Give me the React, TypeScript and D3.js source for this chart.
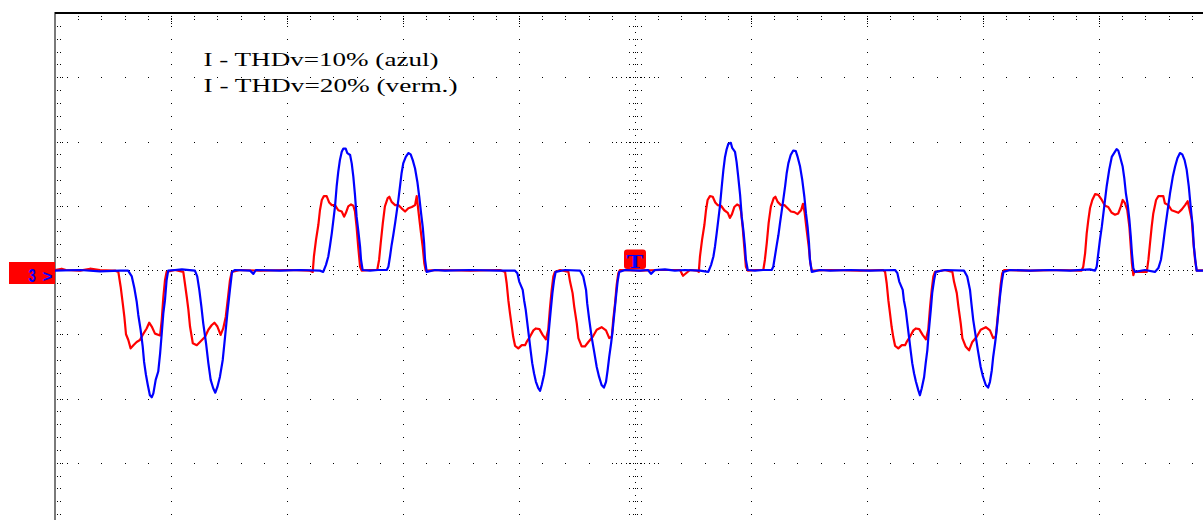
import React from 'react';
import * as d3 from 'd3';

// Oscilloscope capture: 5 ms/div horizontally (t in ms from left edge), current in divisions vertically.
const legendLines = ['I - THDv=10% (azul)', 'I - THDv=20% (verm.)'];
const channelLabel = '3';
const triggerLabel = 'T';
const timeDomain: [number, number] = [0, 50];
const ampDomain: [number, number] = [-4, 4];
const majorTimes = [5, 10, 15, 20, 30, 35, 40, 45];
const majorAmps = [-3, -2, -1, 1, 2, 3];

// I - THDv=10% (blue)
const currentThd10: [number, number][] = [
  [0,-0.01],[1.08,0],[1.94,-0.02],[2.80,-0.01],[3.15,-0.01],[3.31,-0.10],[3.42,-0.28],[3.52,-0.49],[3.59,-0.70],[3.69,-0.93],[3.78,-1.19],[3.84,-1.43],[3.92,-1.63],[4.00,-1.79],[4.09,-1.95],[4.17,-1.98],[4.24,-1.92],[4.34,-1.71],[4.45,-1.58],[4.53,-1.30],[4.60,-0.99],[4.67,-0.67],[4.74,-0.47],[4.81,-0.16],[4.88,-0.01],[5.17,0],[5.47,0.01],[6.03,-0.01],[6.13,-0.10],[6.22,-0.31],[6.31,-0.57],[6.39,-0.83],[6.51,-1.14],[6.61,-1.45],[6.71,-1.71],[6.82,-1.84],[6.91,-1.91],[7.00,-1.82],[7.11,-1.66],[7.23,-1.40],[7.33,-1.04],[7.43,-0.67],[7.54,-0.31],[7.63,-0.03],[7.76,0],[8.41,-0.01],[8.55,-0.06],[8.66,0],[9.70,-0.01],[10.56,0],[11.42,-0.01],
  [11.56,-0.03],[11.68,0.08],[11.78,0.21],[11.85,0.37],[11.93,0.57],[12.00,0.78],[12.07,0.99],[12.14,1.30],[12.21,1.53],[12.28,1.71],[12.36,1.84],[12.43,1.89],[12.53,1.89],[12.60,1.82],[12.72,1.79],[12.79,1.66],[12.86,1.45],[12.93,1.17],[13.00,0.83],[13.07,0.62],[13.15,0.36],[13.19,0.16],[13.26,0],[13.58,-0.01],[13.92,0],[14.30,0],[14.37,0.05],[14.44,0.21],[14.51,0.39],[14.58,0.54],[14.66,0.73],[14.73,0.91],[14.80,1.09],[14.87,1.30],[14.94,1.51],[15.01,1.66],[15.12,1.76],[15.23,1.82],[15.33,1.80],[15.42,1.71],[15.52,1.58],[15.62,1.37],[15.70,1.14],[15.78,0.88],[15.85,0.67],[15.91,0.42],[15.95,0.16],[16.02,-0.03],[16.38,0],[16.81,-0.01],[17.89,0],[19.18,-0.01],[19.83,-0.01],
  [19.93,-0.05],[20.01,-0.18],[20.16,-0.31],[20.22,-0.47],[20.29,-0.62],[20.36,-0.83],[20.43,-1.04],[20.50,-1.25],[20.57,-1.45],[20.65,-1.61],[20.73,-1.74],[20.83,-1.84],[20.91,-1.88],[20.98,-1.79],[21.08,-1.63],[21.15,-1.45],[21.22,-1.25],[21.29,-0.93],[21.37,-0.62],[21.44,-0.36],[21.51,-0.16],[21.58,-0.03],[21.98,0],[22.63,-0.01],[22.77,-0.10],[22.89,-0.31],[22.94,-0.52],[23.03,-0.78],[23.13,-1.04],[23.23,-1.25],[23.35,-1.51],[23.45,-1.66],[23.56,-1.79],[23.66,-1.83],[23.75,-1.74],[23.82,-1.56],[23.89,-1.35],[23.97,-1.14],[24.04,-0.93],[24.11,-0.67],[24.18,-0.42],[24.25,-0.18],[24.32,-0.03],[24.57,0],[25.22,-0.01],[25.56,0],[25.69,-0.06],[25.86,0],[26.29,0.01],[26.72,-0.01],[27.16,0],[27.80,-0.01],
  [28.16,-0.03],[28.28,0.08],[28.38,0.21],[28.45,0.37],[28.52,0.57],[28.59,0.78],[28.66,0.99],[28.74,1.30],[28.81,1.56],[28.88,1.76],[28.95,1.88],[29.02,1.96],[29.13,1.98],[29.19,1.90],[29.31,1.84],[29.38,1.68],[29.45,1.45],[29.53,1.17],[29.60,0.83],[29.67,0.62],[29.74,0.36],[29.78,0.16],[29.86,0],[30.17,-0.01],[30.52,0],[30.89,0],[30.96,0.05],[31.03,0.21],[31.11,0.39],[31.18,0.54],[31.25,0.73],[31.32,0.91],[31.39,1.09],[31.47,1.30],[31.54,1.51],[31.61,1.66],[31.71,1.79],[31.82,1.86],[31.93,1.85],[32.01,1.76],[32.11,1.62],[32.21,1.40],[32.30,1.14],[32.37,0.88],[32.44,0.67],[32.50,0.42],[32.54,0.16],[32.62,-0.03],[32.97,0],[33.41,-0.01],[34.27,0],[35.13,-0.01],[36.21,0],
  [36.31,-0.05],[36.39,-0.18],[36.54,-0.31],[36.59,-0.47],[36.67,-0.62],[36.74,-0.83],[36.81,-1.04],[36.88,-1.25],[36.95,-1.45],[37.03,-1.61],[37.11,-1.74],[37.21,-1.87],[37.28,-1.95],[37.36,-1.84],[37.46,-1.67],[37.53,-1.45],[37.60,-1.25],[37.67,-0.93],[37.75,-0.62],[37.81,-0.36],[37.89,-0.16],[37.96,-0.03],[38.36,0],[39.18,-0.01],[39.32,-0.10],[39.44,-0.31],[39.50,-0.52],[39.58,-0.78],[39.69,-1.04],[39.78,-1.25],[39.90,-1.51],[40.00,-1.66],[40.12,-1.79],[40.22,-1.83],[40.30,-1.74],[40.38,-1.56],[40.44,-1.35],[40.52,-1.14],[40.59,-0.93],[40.66,-0.67],[40.73,-0.42],[40.81,-0.18],[40.88,-0.03],[41.16,0],[42.03,-0.01],[42.89,0],[43.75,-0.01],[44.61,0.01],[44.83,-0.01],
  [44.90,0.05],[44.97,0.26],[45.04,0.47],[45.12,0.67],[45.19,0.88],[45.26,1.09],[45.33,1.30],[45.44,1.56],[45.55,1.76],[45.65,1.82],[45.76,1.88],[45.83,1.86],[45.91,1.76],[46.02,1.61],[46.09,1.43],[46.16,1.19],[46.24,1.01],[46.31,0.78],[46.37,0.52],[46.42,0.26],[46.48,0.03],[46.55,-0.03],[46.98,0],[47.41,-0.03],[47.56,0.03],[47.67,0.16],[47.75,0.36],[47.84,0.62],[47.94,0.88],[48.06,1.19],[48.18,1.45],[48.28,1.61],[48.38,1.74],[48.49,1.82],[48.59,1.80],[48.69,1.71],[48.78,1.56],[48.87,1.30],[48.95,0.99],[49.04,0.67],[49.09,0.36],[49.17,0.10],[49.21,-0.01],[49.48,-0.01],[50,0],
];

// I - THDv=20% (red)
const currentThd20: [number, number][] = [
  [0,0],[0.29,0.02],[0.47,0],[1.08,-0.01],[1.51,0.02],[1.94,0],[2.46,-0.01],[2.59,-0.01],[2.73,-0.03],[2.83,-0.26],[2.92,-0.52],[2.99,-0.73],[3.06,-1.00],[3.16,-1.09],[3.26,-1.22],[3.38,-1.17],[3.52,-1.12],[3.66,-1.09],[3.78,-1.01],[3.95,-0.91],[4.06,-0.82],[4.17,-0.88],[4.31,-0.99],[4.53,-1.02],[4.60,-0.78],[4.67,-0.42],[4.74,-0.16],[4.81,-0.03],[5.17,0],[5.53,-0.03],[5.60,-0.21],[5.68,-0.42],[5.75,-0.62],[5.82,-0.88],[5.94,-1.14],[6.11,-1.17],[6.25,-1.12],[6.47,-1.04],[6.61,-0.93],[6.75,-0.86],[6.87,-0.82],[7.00,-0.88],[7.14,-1.01],[7.25,-0.91],[7.36,-0.73],[7.46,-0.42],[7.54,-0.16],[7.62,-0.03],[7.97,0],[8.84,-0.01],[10.13,0],[10.99,-0.01],
  [11.11,-0.03],[11.16,0.21],[11.25,0.47],[11.35,0.70],[11.42,0.93],[11.50,1.09],[11.59,1.15],[11.71,1.15],[11.82,1.05],[11.93,1.01],[12.07,1.01],[12.21,0.93],[12.36,0.91],[12.46,0.83],[12.54,0.89],[12.64,0.99],[12.76,1.02],[12.86,1.00],[12.93,0.91],[13.00,0.67],[13.07,0.36],[13.15,0.05],[13.22,-0.01],[13.58,0],[13.89,0],[13.97,0.16],[14.04,0.42],[14.13,0.73],[14.22,0.99],[14.34,1.12],[14.41,1.14],[14.51,1.06],[14.66,1.01],[14.80,1.01],[14.94,0.96],[15.09,0.91],[15.23,0.96],[15.38,0.98],[15.52,1.01],[15.59,1.15],[15.66,0.93],[15.76,0.62],[15.85,0.36],[15.92,0.10],[15.98,-0.01],[16.59,0],[17.89,-0.01],[19.18,0],
  [19.40,-0.03],[19.47,-0.21],[19.54,-0.47],[19.61,-0.67],[19.69,-0.88],[19.75,-1.04],[19.83,-1.18],[19.97,-1.22],[20.12,-1.17],[20.26,-1.17],[20.33,-1.12],[20.47,-1.04],[20.62,-0.94],[20.73,-0.91],[20.88,-0.92],[21.02,-1.01],[21.16,-1.08],[21.26,-0.93],[21.34,-0.57],[21.41,-0.31],[21.48,-0.10],[21.55,-0.03],[21.77,0],[22.13,-0.03],[22.20,-0.18],[22.31,-0.36],[22.38,-0.57],[22.49,-0.83],[22.56,-1.06],[22.70,-1.19],[22.84,-1.19],[22.99,-1.12],[23.18,-1.04],[23.35,-0.93],[23.56,-0.89],[23.75,-0.94],[23.89,-1.06],[24.00,-1.04],[24.06,-0.78],[24.14,-0.52],[24.21,-0.23],[24.28,-0.05],[24.35,0],[25.22,-0.01],[26.08,0],[26.94,0],[27.07,-0.09],[27.20,-0.05],[27.37,0],[27.67,-0.01],
  [27.75,-0.03],[27.80,0.21],[27.89,0.47],[27.99,0.70],[28.06,0.93],[28.13,1.09],[28.23,1.15],[28.35,1.14],[28.46,1.05],[28.56,1.01],[28.71,1.00],[28.85,0.93],[29.00,0.89],[29.09,0.81],[29.18,0.87],[29.28,0.98],[29.40,1.02],[29.50,1.00],[29.57,0.91],[29.64,0.67],[29.71,0.36],[29.78,0.05],[29.86,-0.01],[30.22,0],[30.53,0],[30.60,0.16],[30.68,0.42],[30.76,0.73],[30.86,0.99],[30.98,1.12],[31.05,1.14],[31.15,1.06],[31.29,1.01],[31.44,1.01],[31.58,0.96],[31.72,0.91],[31.87,0.90],[32.01,0.87],[32.16,0.93],[32.24,1.03],[32.31,0.90],[32.40,0.62],[32.49,0.36],[32.56,0.10],[32.62,-0.01],[33.41,0],[34.70,-0.01],[35.69,0],
  [35.78,-0.03],[35.85,-0.21],[35.92,-0.47],[35.99,-0.67],[36.06,-0.88],[36.13,-1.04],[36.21,-1.18],[36.35,-1.22],[36.50,-1.17],[36.64,-1.17],[36.71,-1.12],[36.85,-1.04],[37.00,-0.94],[37.11,-0.91],[37.25,-0.92],[37.40,-1.01],[37.54,-1.08],[37.64,-0.93],[37.72,-0.57],[37.79,-0.31],[37.86,-0.10],[37.93,-0.03],[38.36,0],[38.68,-0.03],[38.75,-0.18],[38.87,-0.36],[38.94,-0.57],[39.04,-0.83],[39.11,-1.06],[39.25,-1.19],[39.40,-1.25],[39.54,-1.12],[39.73,-1.04],[39.90,-0.93],[40.12,-0.89],[40.30,-0.94],[40.44,-1.06],[40.55,-1.04],[40.62,-0.78],[40.69,-0.52],[40.76,-0.23],[40.83,-0.05],[40.91,0],[42.03,-0.01],[43.32,0],[44.18,-0.01],
  [44.25,-0.01],[44.32,0.05],[44.40,0.26],[44.47,0.57],[44.54,0.78],[44.61,0.96],[44.71,1.09],[44.83,1.18],[44.97,1.17],[45.12,1.09],[45.26,1.00],[45.40,0.98],[45.55,0.89],[45.69,0.86],[45.83,0.88],[45.94,0.99],[46.02,1.09],[46.12,1.04],[46.22,0.93],[46.31,0.67],[46.37,0.36],[46.42,0.10],[46.48,-0.08],[46.52,-0.03],[47.06,-0.03],[47.13,0.16],[47.20,0.42],[47.27,0.67],[47.34,0.88],[47.46,1.09],[47.56,1.15],[47.77,1.15],[47.84,1.04],[47.99,1.01],[48.13,0.93],[48.28,0.91],[48.42,0.89],[48.56,0.94],[48.71,1.01],[48.82,1.07],[48.89,0.96],[49.00,0.78],[49.06,0.47],[49.14,0.16],[49.21,-0.01],[50,0],
];

const W = 1203;
const H = 520;

export default function App() {
  const x = d3.scaleLinear().domain(timeDomain).range([55, 1215]);
  const y = d3.scaleLinear().domain(ampDomain).range([527, 13]);
  const line = d3.line<[number, number]>().x(d => x(d[0])).y(d => y(d[1]));

  const dots: [number, number][] = [];
  const add = (px: number, py: number) => {
    if (px < 55 || px > W || py < 13 || py > H) return;
    dots.push([Math.round(px), Math.round(py)]);
  };
  const cx = x(25);
  const cy = y(0);
  // major vertical lines
  for (const t of majorTimes) {
    for (let k = -20; k <= 20; k++) add(x(t), y(k * 0.2));
    for (let k = 1; k < 5; k++) add(x(t), y(4 - k * 0.04));
    for (let k = -2; k <= 2; k++) add(x(t), y(k * 0.08));
  }
  // major horizontal lines
  for (const a of majorAmps) {
    for (let t = 1; t < 50; t++) add(x(t), y(a));
    for (const t of [0.1, 0.3, 0.5]) add(x(t), y(a));
    for (let k = -4; k <= 4; k++) add(x(25 + k * 0.2), y(a));
  }
  // centre vertical
  for (let k = -40; k <= 40; k++) {
    add(cx, y(k * 0.1));
    if (k % 2 === 0 && k !== 0) for (const dx of [-6, -2, 2, 6]) add(cx + dx, y(k * 0.1));
  }
  // centre horizontal
  for (let k = 1; k < 250; k++) add(x(k * 0.2), cy);
  for (let t = 1; t < 50; t++) for (const dy of [-4, 4]) add(x(t), cy + dy);
  // border ticks
  for (let k = -20; k <= 20; k++) { add(57, y(k * 0.2)); add(60, y(k * 0.2)); }
  for (let t = 1; t < 50; t++) { add(x(t), 16); add(x(t), 19); }

  const serif = '"Liberation Serif", "Times New Roman", serif';
  const sans = '"Liberation Sans", Arial, sans-serif';

  return (
    <svg width={W} height={H} style={{ position: 'absolute', left: 0, top: 0, display: 'block' }}>
      <rect x={0} y={0} width={W} height={H} fill="#ffffff" />
      <g shapeRendering="crispEdges">
        {dots.map((d, i) => (
          <rect key={i} x={d[0]} y={d[1]} width={1} height={1} fill="#000" />
        ))}
        <rect x={54} y={12} width={2} height={H - 12} fill="#7a7a7a" />
        <rect x={55} y={12} width={W - 55} height={2} fill="#000" />
      </g>
      <text x={203.5} y={65.5} fontFamily={serif} fontSize={18.5} fill="#000"
        textLength={235} lengthAdjust="spacingAndGlyphs">{legendLines[0]}</text>
      <text x={203.5} y={91.5} fontFamily={serif} fontSize={18.5} fill="#000"
        textLength={254} lengthAdjust="spacingAndGlyphs">{legendLines[1]}</text>
      <path d={line(currentThd20) ?? ''} fill="none" stroke="#ff0000" strokeWidth={2.2} strokeLinejoin="round" />
      <path d={line(currentThd10) ?? ''} fill="none" stroke="#0000ff" strokeWidth={2.2} strokeLinejoin="round" />
      {/* channel marker */}
      <rect x={9} y={262} width={46} height={22} fill="#ff0000" />
      <text transform="translate(28.5,282) scale(0.72,1)" fontFamily={sans} fontWeight="bold" fontSize={18} fill="#0000ff">{channelLabel}</text>
      <text x={42.5} y={281.5} fontFamily={sans} fontWeight="bold" fontSize={17} fill="#0000ff">&gt;</text>
      {/* trigger marker */}
      <rect x={624} y={249.5} width={22} height={19.5} rx={3} fill="#ff0000" />
      <text transform={`translate(${cx},268.3) scale(1.3,1)`} textAnchor="middle" fontFamily={serif}
        fontWeight="bold" fontSize={19.5} fill="#0000ff">{triggerLabel}</text>
    </svg>
  );
}
